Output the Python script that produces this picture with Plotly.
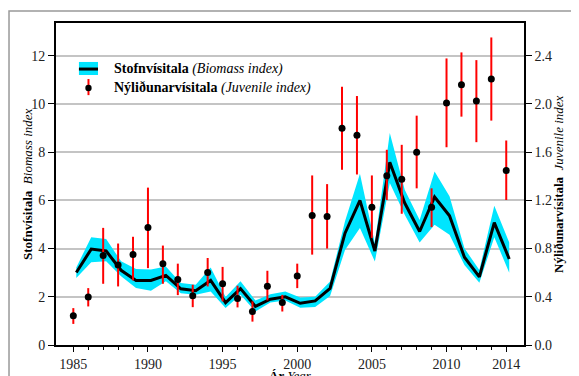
import plotly.graph_objects as go

years = list(range(1985, 2015))

biomass = [3.01, 3.98, 3.90, 3.10, 2.68, 2.68, 2.89, 2.33, 2.25, 2.68,
           1.76, 2.34, 1.60, 1.90, 2.00, 1.73, 1.83, 2.35, 4.64, 6.00,
           3.90, 7.58, 5.89, 4.71, 6.14, 5.36, 3.64, 2.83, 5.08, 3.57]
biomass_lo = [2.78, 3.43, 3.47, 2.85, 2.36, 2.25, 2.64, 2.15, 2.08, 2.22,
              1.53, 2.08, 1.39, 1.76, 1.85, 1.55, 1.58, 2.03, 3.94, 4.85,
              3.46, 6.72, 5.40, 4.25, 4.99, 4.57, 3.32, 2.58, 4.47, 3.00]
biomass_hi = [3.22, 4.47, 4.40, 3.47, 3.15, 3.13, 3.26, 2.57, 2.50, 3.22,
              1.99, 2.64, 1.85, 2.11, 2.22, 1.97, 2.00, 2.63, 5.13, 7.11,
              4.22, 8.80, 6.44, 5.19, 7.20, 6.17, 4.01, 3.11, 5.78, 4.25]

juvenile = [0.242, 0.398, 0.742, 0.664, 0.752, 0.975, 0.675, 0.544, 0.408, 0.602,
            0.508, 0.386, 0.278, 0.488, 0.352, 0.572, 1.075, 1.067, 1.799, 1.741,
            1.144, 1.405, 1.375, 1.600, 1.144, 2.008, 2.160, 2.025, 2.207, 1.448]
juvenile_lo = [0.175, 0.320, 0.508, 0.486, 0.536, 0.638, 0.508, 0.414, 0.314, 0.486,
               0.362, 0.312, 0.194, 0.370, 0.278, 0.472, 0.750, 0.800, 1.454, 1.415,
               0.889, 1.203, 1.089, 1.300, 0.978, 1.641, 1.895, 1.683, 1.862, 1.203]
juvenile_hi = [0.306, 0.472, 0.972, 0.842, 0.898, 1.306, 0.825, 0.675, 0.500, 0.722,
               0.648, 0.492, 0.362, 0.616, 0.416, 0.675, 1.407, 1.335, 2.143, 2.066,
               1.407, 1.620, 1.661, 1.903, 1.300, 2.378, 2.428, 2.364, 2.552, 1.697]

x_ticks = [1985, 1990, 1995, 2000, 2005, 2010, 2014]
y_ticks = [0, 2, 4, 6, 8, 10, 12]
y2_ticks = [0.0, 0.4, 0.8, 1.2, 1.6, 2.0, 2.4]

LINE_OFFSET = 0.2  # survey index plotted slightly after the year mark
CYAN = "#00e5ff"
FONT = "Liberation Serif"

bx = [y + LINE_OFFSET for y in years]

fig = go.Figure()
fig.add_trace(go.Scatter(x=bx, y=biomass_lo, mode="lines", line=dict(width=0, color=CYAN),
                         showlegend=False, hoverinfo="skip"))
fig.add_trace(go.Scatter(x=bx, y=biomass_hi, mode="lines", line=dict(width=0, color=CYAN),
                         fill="tonexty", fillcolor=CYAN, showlegend=False, hoverinfo="skip"))
fig.add_trace(go.Scatter(x=bx, y=biomass, mode="lines", line=dict(width=3, color="black"),
                         showlegend=False))
fig.add_trace(go.Scatter(
    x=years, y=juvenile, yaxis="y2", mode="markers",
    marker=dict(color="black", size=7),
    error_y=dict(type="data", symmetric=False,
                 array=[h - v for h, v in zip(juvenile_hi, juvenile)],
                 arrayminus=[v - l for v, l in zip(juvenile, juvenile_lo)],
                 color="red", thickness=2, width=0),
    showlegend=False))

tickfont = dict(family=FONT, size=14, color="#222")
titlefont = dict(family=FONT, size=13, color="black")

fig.update_layout(
    width=571, height=368,
    margin=dict(l=48, r=55, t=15, b=31, autoexpand=False),
    paper_bgcolor="white", plot_bgcolor="white",
    font=dict(family=FONT, color="black"),
    showlegend=False,
    xaxis=dict(range=[1983.84, 2015.19], tickmode="array", tickvals=x_ticks,
               ticks="outside", ticklen=5, tickwidth=1.2, tickcolor="black",
               minor=dict(tickmode="array", tickvals=years, ticks="outside",
                          ticklen=3, tickwidth=1, tickcolor="black"),
               showline=True, linecolor="black", linewidth=2, mirror=True,
               showgrid=False, zeroline=False, tickfont=tickfont, automargin=False),
    yaxis=dict(range=[0, 13.36], tickmode="array", tickvals=y_ticks,
               ticks="outside", ticklen=6, tickwidth=1.2, tickcolor="black",
               showline=True, linecolor="black", linewidth=2,
               showgrid=True, gridcolor="#c4c4c4", gridwidth=1.5, zeroline=False,
               tickfont=tickfont, automargin=False),
    yaxis2=dict(range=[0, 2.672], overlaying="y", side="right", tickmode="array",
                tickvals=y2_ticks, tickformat=".1f",
                ticks="outside", ticklen=6, tickwidth=1.2, tickcolor="black",
                showline=True, linecolor="black", linewidth=1.5,
                showgrid=False, zeroline=False, tickfont=tickfont, automargin=False),
)

# axis titles
fig.add_annotation(xref="paper", yref="paper", x=0.5, y=-0.094, xanchor="center", yanchor="middle",
                   text="<b>Ár</b> <i>Year</i>", showarrow=False, font=titlefont)
fig.add_annotation(xref="paper", yref="paper", x=-0.062, y=0.5, xanchor="center", yanchor="middle",
                   text="<b>Stofnvísitala</b>  <i>Biomass index</i>", textangle=-90,
                   showarrow=False, font=titlefont)
fig.add_annotation(xref="paper", yref="paper", x=1.0726, y=0.5, xanchor="center", yanchor="middle",
                   text="<b>Nýliðunarvísitala</b>  <i>Juvenile index</i>", textangle=-90,
                   showarrow=False, font=titlefont)

# outer frame (top and left edges visible)
fig.add_shape(type="rect", xref="paper", yref="paper",
              x0=-0.1004, x1=1.3, y0=-0.3, y1=1.0373,
              line=dict(color="#999999", width=1.5), layer="below")

# legend (drawn manually)
fig.add_shape(type="rect", xref="paper", yref="paper",
              x0=0.049, x1=0.0897, y0=0.8385, y1=0.879,
              fillcolor=CYAN, line=dict(width=0))
fig.add_shape(type="line", xref="paper", yref="paper",
              x0=0.049, x1=0.0897, y0=0.857, y1=0.857,
              line=dict(color="black", width=3))
fig.add_shape(type="line", xref="paper", yref="paper",
              x0=0.0694, x1=0.0694, y0=0.776, y1=0.826,
              line=dict(color="red", width=2))
fig.add_shape(type="circle", xref="paper", yref="paper",
              x0=0.0694 - 0.0068, x1=0.0694 + 0.0068, y0=0.798 - 0.0099, y1=0.798 + 0.0099,
              fillcolor="black", line=dict(width=0))
fig.add_annotation(xref="paper", yref="paper", x=0.1197, y=0.857, xanchor="left", yanchor="middle",
                   text="<b>Stofnvísitala</b> <i>(Biomass index)</i>", showarrow=False,
                   font=dict(family=FONT, size=14, color="black"))
fig.add_annotation(xref="paper", yref="paper", x=0.1197, y=0.798, xanchor="left", yanchor="middle",
                   text="<b>Nýliðunarvísitala</b> <i>(Juvenile index)</i>", showarrow=False,
                   font=dict(family=FONT, size=14, color="black"))

fig.write_html("out.html")
